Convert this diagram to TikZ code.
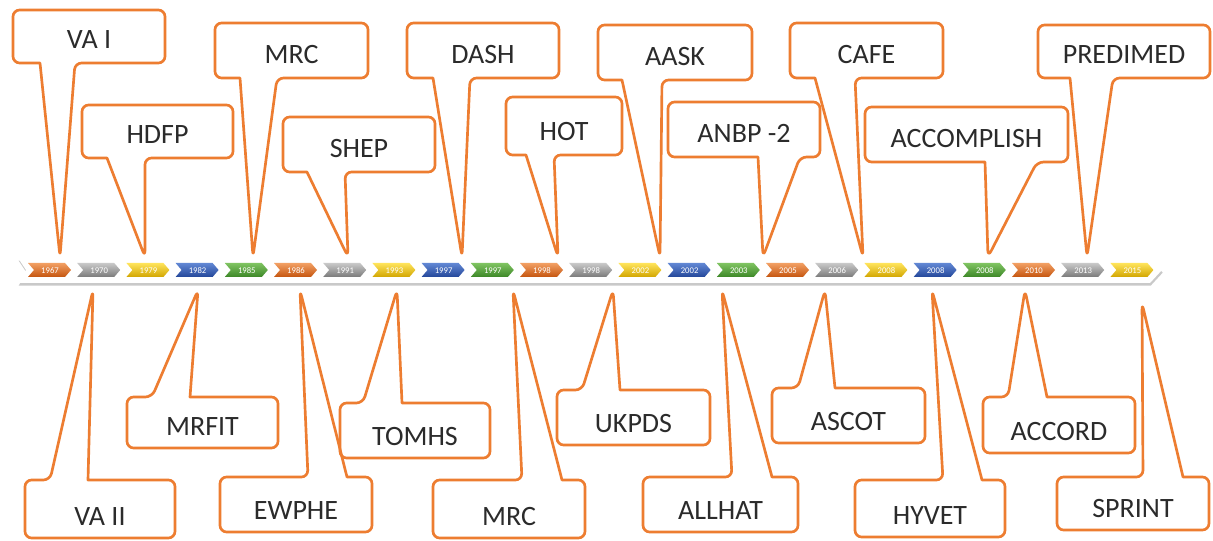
\documentclass[tikz,border=0pt]{standalone}
\usepackage{fontspec}
\setmainfont{Carlito}
\usetikzlibrary{shadows}
\definecolor{co}{HTML}{ED7D31}
\definecolor{txt}{HTML}{2B2B2B}
\definecolor{Otop}{HTML}{F2A064}\definecolor{Obot}{HTML}{C5550F}
\definecolor{Gtop}{HTML}{C9C9C9}\definecolor{Gbot}{HTML}{7A7A7A}
\definecolor{Ytop}{HTML}{FFE45C}\definecolor{Ybot}{HTML}{D2A600}
\definecolor{Btop}{HTML}{6288D4}\definecolor{Bbot}{HTML}{24479A}
\definecolor{Ctop}{HTML}{80C462}\definecolor{Cbot}{HTML}{3C8727}
\begin{document}
\begin{tikzpicture}[x=0.75pt,y=-0.75pt,
  callout/.style={draw=co, line width=2pt, rounded corners=5pt, line join=round},
  lbl/.style={font=\fontsize{21}{25}\selectfont, text=txt, anchor=base, inner sep=0pt},
  yearlbl/.style={font=\fontsize{6.5}{7}\selectfont, text=white, inner sep=0pt}]
\useasboundingbox[fill=white] (0,0) rectangle (1213,541);
% timeline bar
\path[fill=white, drop shadow={shadow xshift=0.5pt, shadow yshift=-2pt, opacity=0.35, fill=black!60}]
  (18,258) -- (1150,258) -- (1162,270) -- (1150,283) -- (18,283) -- (26,270) -- cycle;
% year chevrons
\foreach \i/\c/\yr in {0/O/1967,1/G/1970,2/Y/1979,3/B/1982,4/C/1985,5/O/1986,6/G/1991,7/Y/1993,
  8/B/1997,9/C/1997,10/O/1998,11/G/1998,12/Y/2002,13/B/2002,14/C/2003,15/O/2005,16/G/2006,
  17/Y/2008,18/B/2008,19/C/2008,20/O/2010,21/G/2013,22/Y/2015}{
  \pgfmathsetmacro\xo{28+\i*49.2}
  \path[top color=\c top, bottom color=\c bot]
    (\xo,263) -- ++(37,0) -- ++(6,7) -- ++(-6,7) -- ++(-37,0) -- ++(6,-7) -- cycle;
  \node[yearlbl] (y\i) at (\xo+22,270.5) {\yr};
}
% callouts above the timeline
\foreach \nm/\xa/\ya/\xb/\yb/\ta/\tb/\px/\py/\txt in {
  vai/13/10/165/63/40/75/60/257/VA I,
  hdfp/82/105/233/158/107/145/145/257/HDFP,
  mrca/215/23/368/78/240/277/253/257/MRC,
  shep/283/117/435/172/307/345/348/257/SHEP,
  dash/407/23/559/78/433/470/462/257/DASH,
  hot/506/97/622/155/526/554/558/257/HOT,
  aask/598/25/752/80/622/662/660/257/AASK,
  anbp/668/102/820/157/758/800/763/257/ANBP -2,
  cafe/790/23/943/78/815/855/863/257/CAFE,
  accomp/865/107/1068/162/985/1037/988/257/ACCOMPLISH,
  predimed/1038/25/1210/78/1070/1113/1087/257/PREDIMED}{
  \draw[callout] (\xa,\ya) -- (\xb,\ya) -- (\xb,\yb) -- (\tb,\yb) -- (\px,\py)
    [sharp corners] -- (\ta,\yb) [rounded corners=5pt] -- (\xa,\yb) -- cycle;
  \node[lbl] (\nm) at ({(\xa+\xb)/2},\yb-14) {\txt};
}
% callouts below the timeline
\foreach \nm/\xa/\ya/\xb/\yb/\ta/\tb/\px/\py/\txt in {
  vaii/25/480/175/538/50/88/93/290/VA II,
  mrfit/127/397/278/448/152/190/198/290/MRFIT,
  ewphe/220/477/372/532/308/347/300/290/EWPHE,
  tomhs/340/403/490/458/363/402/397/290/TOMHS,
  mrcb/433/480/585/538/522/562/513/290/MRC,
  ukpds/557/390/710/445/582/620/613/290/UKPDS,
  allhat/643/477/798/532/732/772/722/290/ALLHAT,
  ascot/772/388/925/443/798/835/825/290/ASCOT,
  hyvet/855/480/1005/537/943/982/932/290/HYVET,
  accord/983/397/1135/453/1008/1047/1025/290/ACCORD,
  sprint/1057/477/1209/530/1143/1183/1142/303/SPRINT}{
  \draw[callout] (\xa,\ya) -- (\ta,\ya) -- (\px,\py)
    [sharp corners] -- (\tb,\ya) [rounded corners=5pt] -- (\xb,\ya) -- (\xb,\yb) -- (\xa,\yb) -- cycle;
  \node[lbl] (\nm) at ({(\xa+\xb)/2},\yb-13) {\txt};
}
\end{tikzpicture}
\end{document}
